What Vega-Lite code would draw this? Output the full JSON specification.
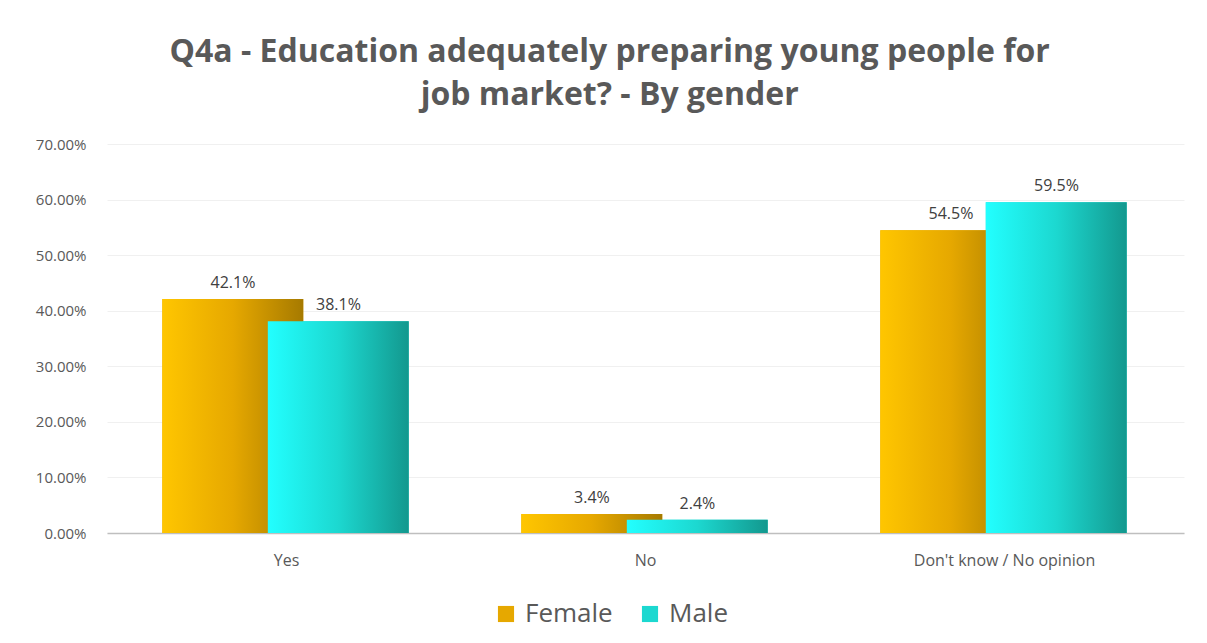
{
  "$schema": "https://vega.github.io/schema/vega-lite/v6.json",
  "width": 1077,
  "height": 389,
  "autosize": {"type": "none"},
  "padding": {"left": 107, "top": 144, "right": 23, "bottom": 110},
  "background": "white",
  "title": {
    "text": ["Q4a - Education adequately preparing young people for", "job market? - By gender"],
    "font": "Open Sans",
    "fontSize": 32,
    "fontWeight": "bold",
    "color": "#595959",
    "anchor": "middle",
    "frame": "bounds",
    "lineHeight": 43,
    "offset": 25
  },
  "data": {
    "values": [
      {"answer": "Yes", "gender": "Female", "pct": 0.421},
      {"answer": "Yes", "gender": "Male", "pct": 0.381},
      {"answer": "No", "gender": "Female", "pct": 0.034},
      {"answer": "No", "gender": "Male", "pct": 0.024},
      {"answer": "Don't know / No opinion", "gender": "Female", "pct": 0.545},
      {"answer": "Don't know / No opinion", "gender": "Male", "pct": 0.595}
    ]
  },
  "encoding": {
    "x": {
      "field": "answer",
      "type": "nominal",
      "sort": ["Yes", "No", "Don't know / No opinion"],
      "scale": {"paddingInner": 0.2719, "paddingOuter": 0.136},
      "axis": {
        "title": null,
        "labelAngle": 0,
        "labelFont": "Open Sans",
        "labelFontSize": 16,
        "labelColor": "#595959",
        "labelPadding": 19,
        "labelLimit": 400,
        "ticks": false,
        "domainColor": "#BFBFBF",
        "domainWidth": 1.5,
        "grid": false
      }
    },
    "xOffset": {
      "field": "gender",
      "type": "nominal",
      "sort": ["Female", "Male"],
      "scale": {"paddingInner": 0, "paddingOuter": 0.239, "align": 1}
    },
    "y": {
      "field": "pct",
      "type": "quantitative",
      "scale": {"domain": [0, 0.7], "nice": false},
      "axis": {
        "title": null,
        "format": ".2%",
        "values": [0, 0.1, 0.2, 0.3, 0.4, 0.5, 0.6, 0.7],
        "labelFont": "Open Sans",
        "labelFontSize": 15,
        "labelColor": "#595959",
        "labelPadding": 21,
        "ticks": false,
        "domain": false,
        "gridColor": "#F0F0F0",
        "gridWidth": 1
      }
    }
  },
  "layer": [
    {
      "mark": {"type": "bar", "width": {"band": 1.336}},
      "encoding": {
        "color": {
          "field": "gender",
          "type": "nominal",
          "sort": ["Female", "Male"],
          "scale": {"domain": ["Female", "Male"], "range": ["#E6A800", "#1CD8D0"]},
          "legend": {
            "title": null,
            "orient": "none",
            "legendX": 386,
            "legendY": 457,
            "direction": "horizontal",
            "symbolType": "square",
            "symbolSize": 260,
            "symbolStrokeWidth": 0,
            "labelFont": "Open Sans",
            "labelFontSize": 26,
            "labelColor": "#595959",
            "labelOffset": 6,
            "columnPadding": 24,
            "encode": {
              "symbols": {
                "enter": {
                  "fill": {"signal": "datum.value === 'Female' ? {gradient: 'linear', x1: 0, y1: 0, x2: 1, y2: 0, stops: [{offset: 0, color: '#FFC600'}, {offset: 0.5, color: '#E6A800'}, {offset: 1, color: '#A67A00'}]} : {gradient: 'linear', x1: 0, y1: 0, x2: 1, y2: 0, stops: [{offset: 0, color: '#22FFFF'}, {offset: 0.5, color: '#1CD8D0'}, {offset: 1, color: '#13988E'}]}"}
                },
                "update": {
                  "fill": {"signal": "datum.value === 'Female' ? {gradient: 'linear', x1: 0, y1: 0, x2: 1, y2: 0, stops: [{offset: 0, color: '#FFC600'}, {offset: 0.5, color: '#E6A800'}, {offset: 1, color: '#A67A00'}]} : {gradient: 'linear', x1: 0, y1: 0, x2: 1, y2: 0, stops: [{offset: 0, color: '#22FFFF'}, {offset: 0.5, color: '#1CD8D0'}, {offset: 1, color: '#13988E'}]}"}
                }
              }
            }
          }
        }
      }
    },
    {
      "mark": {"type": "bar", "width": {"band": 1.336}},
      "encoding": {
        "fill": {
          "condition": {
            "test": {"field": "gender", "equal": "Female"},
            "value": {"gradient": "linear", "x1": 0, "y1": 0, "x2": 1, "y2": 0, "stops": [{"offset": 0, "color": "#FFC600"}, {"offset": 0.5, "color": "#E6A800"}, {"offset": 1, "color": "#A67A00"}]}
          },
          "value": {"gradient": "linear", "x1": 0, "y1": 0, "x2": 1, "y2": 0, "stops": [{"offset": 0, "color": "#22FFFF"}, {"offset": 0.5, "color": "#1CD8D0"}, {"offset": 1, "color": "#13988E"}]}
        }
      }
    },
    {
      "mark": {"type": "text", "baseline": "bottom", "dy": -8, "dx": -26, "font": "Open Sans", "fontSize": 16, "color": "#404040"},
      "encoding": {
        "text": {"field": "pct", "type": "quantitative", "format": ".1%"}
      }
    }
  ],
  "config": {"view": {"stroke": null}}
}
